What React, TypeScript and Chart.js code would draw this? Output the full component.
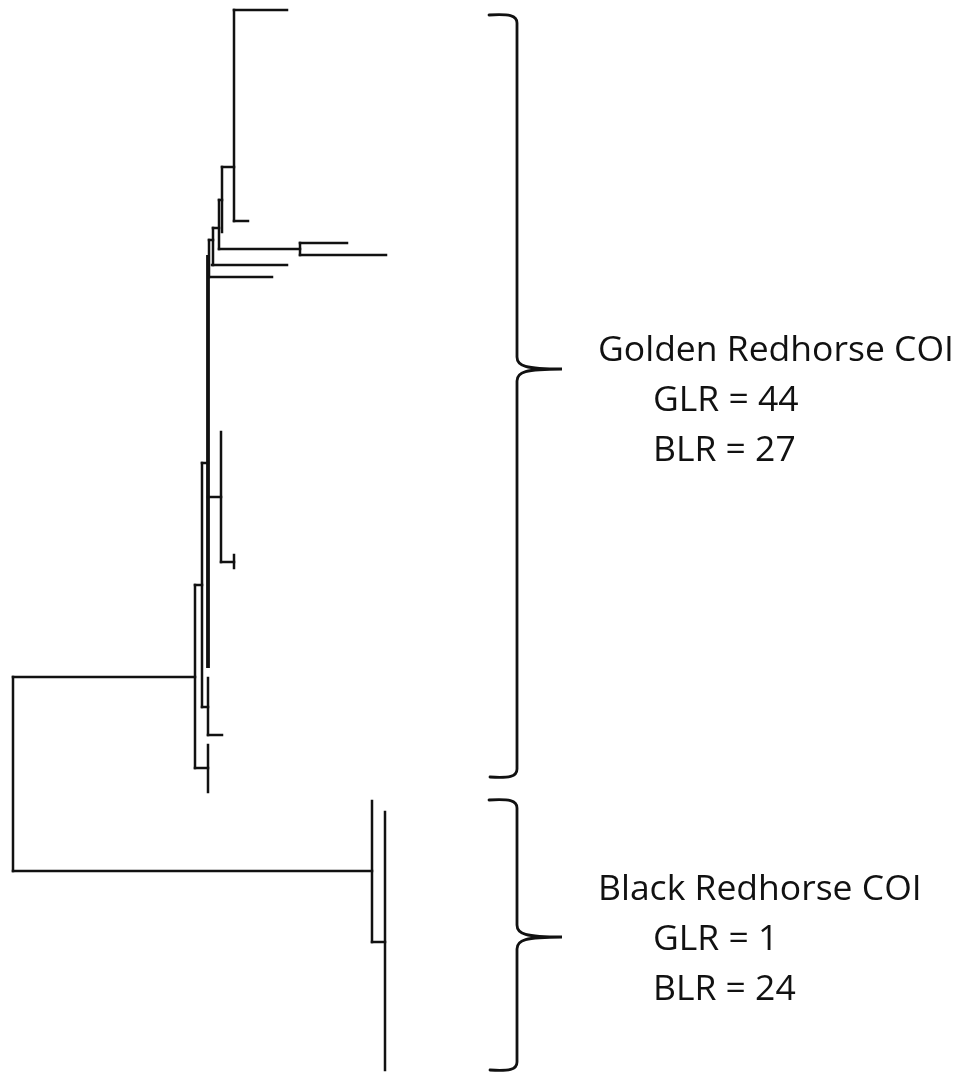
import React, { useEffect, useRef } from "react";
import { Chart, registerables } from "chart.js";

Chart.register(...registerables);

// Tree branches (units = drawing coordinates of the tree)
// horizontal branches: [y, xStart, xEnd]
const hBranches: [number, number, number][] = [
  [10, 234, 287],
  [221, 234, 248],
  [167, 222, 234],
  [200, 219, 222],
  [249, 219, 300],
  [243, 300, 347],
  [255, 300, 386],
  [228, 213, 219],
  [265, 212, 287],
  [240, 209, 213],
  [277, 209, 272],
  [497, 208, 221],
  [562, 221, 234],
  [463, 202, 208],
  [585, 195, 202],
  [707, 202, 208],
  [735, 208, 222],
  [768, 195, 208],
  [677, 13, 195],
  [871, 13, 372],
  [942, 372, 385],
];
// vertical branches: [x, yStart, yEnd]
const vBranches: [number, number, number][] = [
  [234, 10, 221],
  [222, 167, 232],
  [219, 200, 249],
  [300, 243, 255],
  [213, 228, 265],
  [209, 240, 277],
  [221, 432, 562],
  [234, 555, 568],
  [202, 463, 707],
  [208, 678, 735],
  [195, 585, 768],
  [208, 745, 792],
  [13, 677, 871],
  [372, 801, 942],
  [385, 812, 1070],
];
// collapsed backbone of near-zero branches: [x, yStart, yEnd]
const backbone: [number, number, number][] = [[208, 255, 668]];

// Clade brackets
const bracketTop = [15, 800];
const bracketMid = [369, 937];
const bracketBottom = [777, 1070];

// Clade labels
const cladeNames = ["Golden Redhorse COI", "Black Redhorse COI"];
const glrCounts = [44, 1];
const blrCounts = [27, 24];

export default function App() {
  const ref = useRef<HTMLCanvasElement | null>(null);

  useEffect(() => {
    if (!ref.current) return;
    const datasets: any[] = [];
    hBranches.forEach(([y, x1, x2]) =>
      datasets.push({ data: [{ x: x1, y }, { x: x2, y }], borderColor: "#111", borderWidth: 2.5, pointRadius: 0, showLine: true, borderCapStyle: "square" })
    );
    vBranches.forEach(([x, y1, y2]) =>
      datasets.push({ data: [{ x, y: y1 }, { x, y: y2 }], borderColor: "#111", borderWidth: 2.5, pointRadius: 0, showLine: true, borderCapStyle: "square" })
    );
    backbone.forEach(([x, y1, y2]) =>
      datasets.push({ data: [{ x, y: y1 }, { x, y: y2 }], borderColor: "#111", borderWidth: 3.8, pointRadius: 0, showLine: true })
    );

    const overlay = {
      id: "overlay",
      afterDatasetsDraw(chart: any) {
        const { ctx, scales } = chart;
        const X = (v: number) => scales.x.getPixelForValue(v);
        const Y = (v: number) => scales.y.getPixelForValue(v);
        ctx.save();
        ctx.strokeStyle = "#111";
        ctx.lineWidth = 2.8;
        ctx.lineCap = "round";
        const bx = 517, curl = 489, tip = 562;
        for (let i = 0; i < bracketTop.length; i++) {
          const t = bracketTop[i], m = bracketMid[i], b = bracketBottom[i];
          ctx.beginPath();
          ctx.moveTo(X(curl), Y(t));
          ctx.bezierCurveTo(X(bx - 8), Y(t - 1), X(bx), Y(t), X(bx), Y(t + 8));
          ctx.lineTo(X(bx), Y(m - 12));
          ctx.bezierCurveTo(X(bx), Y(m - 3), X(bx + 8), Y(m), X(tip), Y(m));
          ctx.bezierCurveTo(X(bx + 8), Y(m), X(bx), Y(m + 3), X(bx), Y(m + 12));
          ctx.lineTo(X(bx), Y(b - 8));
          ctx.bezierCurveTo(X(bx), Y(b), X(bx - 8), Y(b + 1), X(curl + 1), Y(b));
          ctx.stroke();
        }
        ctx.fillStyle = "#111";
        ctx.textBaseline = "alphabetic";
        ctx.textAlign = "left";
        ctx.font = "35.5px 'Open Sans'";
        const baseY = [361, 900];
        for (let i = 0; i < cladeNames.length; i++) {
          ctx.fillText(cladeNames[i], X(598), Y(baseY[i]));
          ctx.fillText(`GLR = ${glrCounts[i]}`, X(653), Y(baseY[i] + 50));
          ctx.fillText(`BLR = ${blrCounts[i]}`, X(653), Y(baseY[i] + 100));
        }
        ctx.restore();
      },
    };

    const chart = new Chart(ref.current, {
      type: "scatter",
      data: { datasets },
      options: {
        animation: false,
        responsive: false,
        layout: { padding: 0 },
        plugins: { legend: { display: false }, tooltip: { enabled: false } },
        scales: {
          x: { type: "linear", min: 0, max: 961, display: false },
          y: { type: "linear", min: 0, max: 1075, reverse: true, display: false },
        },
      },
      plugins: [overlay],
    });
    return () => chart.destroy();
  }, []);

  return (
    <div style={{ position: "absolute", left: 0, top: 0, width: 961, height: 1075, background: "#fff" }}>
      <canvas ref={ref} width={961} height={1075} style={{ display: "block" }} />
    </div>
  );
}
